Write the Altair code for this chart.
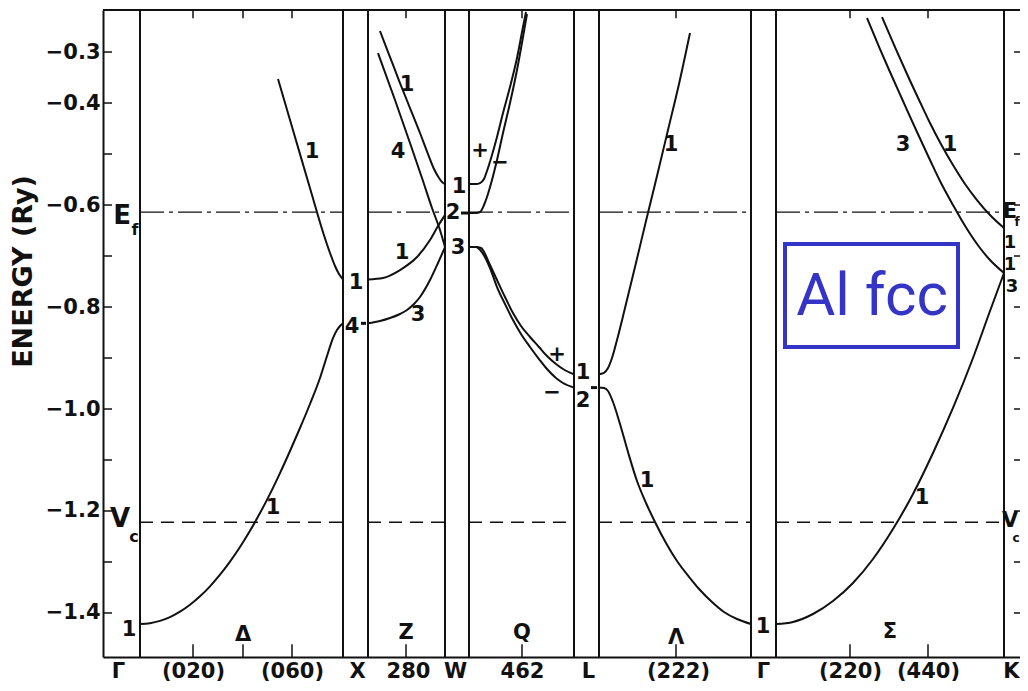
import altair as alt
import pandas as pd

# ---------------- axes / frame values ----------------
Y_MIN, Y_MAX = -1.4863, -0.2176          # energy range (Ry)
K_MIN, K_MAX = 103, 1020                  # k-path coordinate (arbitrary units)

y_label_values = [-0.3, -0.4, -0.6, -0.8, -1.0, -1.2, -1.4]
y_all_ticks = [-0.3, -0.4, -0.5, -0.6, -0.7, -0.8, -0.9, -1.0, -1.1, -1.2, -1.3, -1.4]

x_label_pos = [118, 193, 292, 357, 408, 455, 522, 588, 678, 763, 850, 928, 1011]
x_label_text = ["Γ", "(020)", "(060)", "X", "280", "W", "462", "L", "(222)", "Γ", "(220)", "(440)", "K"]
inner_tick_pos = [193, 243, 292, 406, 522, 676, 850, 928]

panel_lines = [140, 343, 368, 445, 469, 574, 599, 751, 776, 1004]
panel_start = [140, 368, 469, 599, 776]
panel_end = [343, 445, 574, 751, 1004]

E_F = -0.614
V_C = -1.222

# ---------------- bands ----------------
d_low_k = [140, 150, 160, 170, 180, 190, 200, 210, 220, 230, 240, 250, 260, 270, 280, 290, 300, 310,
           320, 327, 333, 337, 340, 343]
d_low_e = [-1.4216, -1.4200, -1.4155, -1.4081, -1.3975, -1.3839, -1.3673, -1.3477, -1.3249, -1.2992,
           -1.2706, -1.2388, -1.2041, -1.1665, -1.1257, -1.0824, -1.0373, -0.9902, -0.9392, -0.8961,
           -0.8608, -0.8451, -0.8373, -0.8320]
d_up_k = [278, 295, 312, 322, 330, 335, 339, 343]
d_up_e = [-0.3529, -0.4667, -0.5804, -0.6471, -0.6941, -0.7196, -0.7353, -0.7460]

z1_k = [368, 383, 400, 417, 430, 438, 445]
z1_e = [-0.7460, -0.7431, -0.7275, -0.7020, -0.6686, -0.6412, -0.6196]
z3_k = [368, 380, 390, 400, 407, 414, 420, 430, 438, 445]
z3_e = [-0.8320, -0.8275, -0.8216, -0.8137, -0.8059, -0.7941, -0.7804, -0.7471, -0.7137, -0.6824]
z4_k = [378, 395, 410, 422, 432, 440, 445]
z4_e = [-0.3020, -0.3941, -0.4784, -0.5471, -0.6059, -0.6490, -0.6824]
z1u_k = [380, 390, 400, 410, 420, 428, 434, 439, 442, 445]
z1u_e = [-0.2588, -0.3098, -0.3608, -0.4098, -0.4588, -0.5000, -0.5294, -0.5471, -0.5549, -0.5588]

qp_k = [469, 476, 480, 484, 487, 492, 497, 503, 510, 517, 523, 526]
qp_e = [-0.5588, -0.5588, -0.5569, -0.5490, -0.5333, -0.5020, -0.4667, -0.4196, -0.3686, -0.3118, -0.2510, -0.2216]
qm_k = [469, 476, 480, 484, 487, 492, 497, 503, 510, 517, 523, 527]
qm_e = [-0.6157, -0.6157, -0.6137, -0.6000, -0.5843, -0.5510, -0.5118, -0.4588, -0.4000, -0.3353, -0.2706, -0.2255]
qlp_k = [469, 476, 481, 490, 497, 505, 513, 521, 530, 539, 547, 556, 563, 574]
qlp_e = [-0.6824, -0.6824, -0.6843, -0.7176, -0.7471, -0.7804, -0.8118, -0.8373, -0.8588, -0.8784,
         -0.8961, -0.9118, -0.9216, -0.9320]
qlm_k = [469, 476, 481, 490, 497, 505, 513, 521, 530, 539, 547, 556, 563, 574]
qlm_e = [-0.6824, -0.6824, -0.6902, -0.7235, -0.7608, -0.7941, -0.8255, -0.8529, -0.8784, -0.9020,
         -0.9216, -0.9392, -0.9490, -0.9580]

lu_k = [598, 604, 608, 612, 617, 625, 635, 646, 657, 668, 679, 690]
lu_e = [-0.9320, -0.9290, -0.9196, -0.9000, -0.8647, -0.8020, -0.7216, -0.6314, -0.5431, -0.4529, -0.3627, -0.2627]
ll_k = [598, 604, 608, 613, 620, 628, 637, 646, 655, 666, 677, 690, 700, 712, 724, 737, 751]
ll_e = [-0.9580, -0.9590, -0.9647, -0.9863, -1.0294, -1.0843, -1.1412, -1.1843, -1.2216, -1.2627,
        -1.2980, -1.3314, -1.3549, -1.3784, -1.3980, -1.4118, -1.4216]

sl_k = [776, 793, 813, 833, 853, 873, 893, 913, 933, 953, 973, 990, 1004]
sl_e = [-1.4216, -1.4176, -1.4020, -1.3765, -1.3412, -1.2941, -1.2353, -1.1667, -1.0863, -0.9980,
        -0.9000, -0.8078, -0.7333]
s3_k = [867, 880, 890, 903, 917, 930, 940, 953, 967, 980, 990, 1004]
s3_e = [-0.2333, -0.2941, -0.3392, -0.3961, -0.4569, -0.5118, -0.5529, -0.6000, -0.6471, -0.6843, -0.7078, -0.7333]
s1_k = [882, 895, 907, 920, 930, 942, 953, 965, 977, 990, 1004]
s1_e = [-0.2314, -0.2902, -0.3431, -0.3980, -0.4392, -0.4843, -0.5216, -0.5588, -0.5902, -0.6196, -0.6451]

bands = {
    "d_low": (d_low_k, d_low_e), "d_up": (d_up_k, d_up_e),
    "z1": (z1_k, z1_e), "z3": (z3_k, z3_e), "z4": (z4_k, z4_e), "z1u": (z1u_k, z1u_e),
    "qp": (qp_k, qp_e), "qm": (qm_k, qm_e), "qlp": (qlp_k, qlp_e), "qlm": (qlm_k, qlm_e),
    "lu": (lu_k, lu_e), "ll": (ll_k, ll_e),
    "sl": (sl_k, sl_e), "s3": (s3_k, s3_e), "s1": (s1_k, s1_e),
}

# ---------------- labels ----------------
lab_text = ["1", "1", "1", "Δ", "1", "4", "1", "4", "1", "3", "Z", "1", "2", "3",
            "+", "−", "+", "−", "Q", "1", "2", "1", "1", "Λ", "1", "3", "1", "1", "Σ"]
lab_k = [129, 312, 273, 243, 356, 352, 407, 398, 402, 418, 406, 459, 453, 458,
         480, 500, 557, 552, 522, 583, 583, 671, 647, 676, 763, 903, 950, 922, 890]
lab_e = [-1.4333, -0.4961, -1.1941, -1.4431, -0.7529, -0.8392, -0.3647, -0.4961, -0.6941, -0.8157, -1.4392,
         -0.5647, -0.6157, -0.6843, -0.4941, -0.5176, -0.8941, -0.9686, -1.4392, -0.9294, -0.9843,
         -0.4824, -1.1412, -1.4490, -1.4275, -0.4824, -0.4824, -1.1745, -1.4373]

k_lab_text = ["1", "1", "3"]
k_lab_k = [1010, 1010, 1012]
k_lab_e = [-0.6740, -0.7180, -0.7610]

big_text = ["E", "V"]
big_k = [122, 120]
big_e = [-0.6216, -1.2157]
sub_text = ["f", "c"]
sub_k = [135, 134]
sub_e = [-0.6490, -1.2510]

kbig_text = ["E", "V"]
kbig_k = [1010, 1010]
kbig_e = [-0.6130, -1.2196]
ksub_text = ["f", "c"]
ksub_k = [1017, 1016]
ksub_e = [-0.6340, -1.2530]

box_k, box_k2 = 785, 958
box_e, box_e2 = -0.6765, -0.8784
box_label = "Al fcc"
box_label_k, box_label_e = 872, -0.7804

# ---------------- data frames ----------------
rows = []
for name, (ks, es) in bands.items():
    for i, (k, e) in enumerate(zip(ks, es)):
        rows.append({"band": name, "i": i, "k": k, "e": e})
band_df = pd.DataFrame(rows)

panel_df = pd.DataFrame({"k": panel_lines})
ef_df = pd.DataFrame({"k": panel_start, "k2": panel_end, "e": [E_F] * len(panel_start)})
vc_df = pd.DataFrame({"k": panel_start, "k2": panel_end, "e": [V_C] * len(panel_start)})
lab_df = pd.DataFrame({"k": lab_k, "e": lab_e, "t": lab_text})
klab_df = pd.DataFrame({"k": k_lab_k, "e": k_lab_e, "t": k_lab_text})
big_df = pd.DataFrame({"k": big_k, "e": big_e, "t": big_text})
sub_df = pd.DataFrame({"k": sub_k, "e": sub_e, "t": sub_text})
kbig_df = pd.DataFrame({"k": kbig_k, "e": kbig_e, "t": kbig_text})
ksub_df = pd.DataFrame({"k": ksub_k, "e": ksub_e, "t": ksub_text})

ytick_df = pd.DataFrame({"k": [K_MIN] * len(y_all_ticks), "k2": [K_MIN + 9] * len(y_all_ticks), "e": y_all_ticks})
rtick_df = pd.DataFrame({"k": [1014] * len(y_all_ticks), "k2": [K_MAX] * len(y_all_ticks), "e": y_all_ticks})
btick_df = pd.DataFrame({"k": inner_tick_pos, "e": [Y_MIN] * len(inner_tick_pos),
                         "e2": [Y_MIN + 0.025] * len(inner_tick_pos)})
ttick_df = pd.DataFrame({"k": inner_tick_pos, "e": [Y_MAX - 0.016] * len(inner_tick_pos),
                         "e2": [Y_MAX] * len(inner_tick_pos)})
top_df = pd.DataFrame({"k": [K_MIN], "k2": [K_MAX], "e": [Y_MAX]})
box_df = pd.DataFrame({"k": [box_k], "k2": [box_k2], "e": [box_e], "e2": [box_e2]})
box_lab_df = pd.DataFrame({"k": [box_label_k], "e": [box_label_e], "t": [box_label]})
dash_df = pd.DataFrame({"k": [361, 461, 591], "k2": [366, 468, 597], "e": [-0.8320, -0.6157, -0.9580]})

# ---------------- encodings ----------------
FONT = "DejaVu Sans"
INK = "#111111"

label_expr = " : ".join(f"datum.value == {p} ? '{t}'" for p, t in zip(x_label_pos, x_label_text)) + " : ''"

x_enc = alt.X("k:Q",
              scale=alt.Scale(domain=[K_MIN, K_MAX], nice=False, zero=False),
              axis=alt.Axis(values=x_label_pos, labelExpr=label_expr, ticks=False, grid=False,
                            domain=True, domainColor=INK, domainWidth=2, title=None,
                            labelFont=FONT, labelFontSize=21, labelFontWeight="bold", labelColor=INK,
                            labelPadding=3, labelFlush=False, labelOverlap=False))
y_enc = alt.Y("e:Q",
              scale=alt.Scale(domain=[Y_MIN, Y_MAX], nice=False, zero=False),
              axis=alt.Axis(values=y_label_values, format=".1f", ticks=False, tickSize=0, grid=False,
                            domain=True, domainColor=INK, domainWidth=2,
                            labelFont=FONT, labelFontSize=21, labelFontWeight="bold", labelColor=INK,
                            labelPadding=3, labelFlush=False, labelOverlap=False,
                            title="ENERGY (Ry)", titleFont=FONT, titleFontSize=27, titleFontWeight="bold",
                            titleColor=INK, titleAngle=270, titleX=-80, titleY=261,
                            titleAlign="center", titleBaseline="middle"))

lines = alt.Chart(band_df).mark_line(interpolate="monotone", color=INK, strokeWidth=2, clip=True).encode(
    x=x_enc, y=y_enc, detail="band:N", order="i:Q")
panels = alt.Chart(panel_df).mark_rule(color=INK, strokeWidth=2).encode(x=x_enc)
ef = alt.Chart(ef_df).mark_rule(color=INK, strokeWidth=1.3, strokeDash=[24, 5, 4, 5]).encode(
    x=x_enc, x2="k2:Q", y=y_enc)
vc = alt.Chart(vc_df).mark_rule(color=INK, strokeWidth=1.5, strokeDash=[13, 8]).encode(
    x=x_enc, x2="k2:Q", y=y_enc)
yticks = alt.Chart(ytick_df).mark_rule(color=INK, strokeWidth=1.5).encode(x=x_enc, x2="k2:Q", y=y_enc)
rticks = alt.Chart(rtick_df).mark_rule(color=INK, strokeWidth=1.5).encode(x=x_enc, x2="k2:Q", y=y_enc)
bticks = alt.Chart(btick_df).mark_rule(color=INK, strokeWidth=1.5).encode(x=x_enc, y=y_enc, y2="e2:Q")
tticks = alt.Chart(ttick_df).mark_rule(color=INK, strokeWidth=1.5).encode(x=x_enc, y=y_enc, y2="e2:Q")
top = alt.Chart(top_df).mark_rule(color=INK, strokeWidth=2).encode(x=x_enc, x2="k2:Q", y=y_enc)
dashes = alt.Chart(dash_df).mark_rule(color=INK, strokeWidth=3).encode(x=x_enc, x2="k2:Q", y=y_enc)

labels = alt.Chart(lab_df).mark_text(font=FONT, fontSize=21, fontWeight="bold", color=INK).encode(
    x=x_enc, y=y_enc, text="t:N")
klabels = alt.Chart(klab_df).mark_text(font=FONT, fontSize=18, fontWeight="bold", color=INK).encode(
    x=x_enc, y=y_enc, text="t:N")
bigs = alt.Chart(big_df).mark_text(font=FONT, fontSize=26, fontWeight="bold", color=INK).encode(
    x=x_enc, y=y_enc, text="t:N")
subs = alt.Chart(sub_df).mark_text(font=FONT, fontSize=16, fontWeight="bold", color=INK).encode(
    x=x_enc, y=y_enc, text="t:N")
kbigs = alt.Chart(kbig_df).mark_text(font=FONT, fontSize=21, fontWeight="bold", color=INK).encode(
    x=x_enc, y=y_enc, text="t:N")
ksubs = alt.Chart(ksub_df).mark_text(font=FONT, fontSize=12, fontWeight="bold", color=INK).encode(
    x=x_enc, y=y_enc, text="t:N")

box = alt.Chart(box_df).mark_rect(fill="white", fillOpacity=0, stroke="#3434c6", strokeWidth=4).encode(
    x=x_enc, x2="k2:Q", y=y_enc, y2="e2:Q")
box_text = alt.Chart(box_lab_df).mark_text(font="Liberation Sans Narrow, Roboto", fontSize=60,
                                           color="#3434c6").encode(x=x_enc, y=y_enc, text="t:N")

chart = alt.layer(
    lines, panels, ef, vc, yticks, rticks, bticks, tticks, top, dashes,
    labels, klabels, bigs, subs, kbigs, ksubs, box, box_text
).properties(
    width=917, height=647,
    autosize=alt.AutoSizeParams(type="none"),
    padding={"left": 95, "top": 2, "right": 0, "bottom": 24},
    background="white",
).configure_view(stroke=None)

chart.save("out.html", embed_options={"renderer": "svg", "actions": False})
